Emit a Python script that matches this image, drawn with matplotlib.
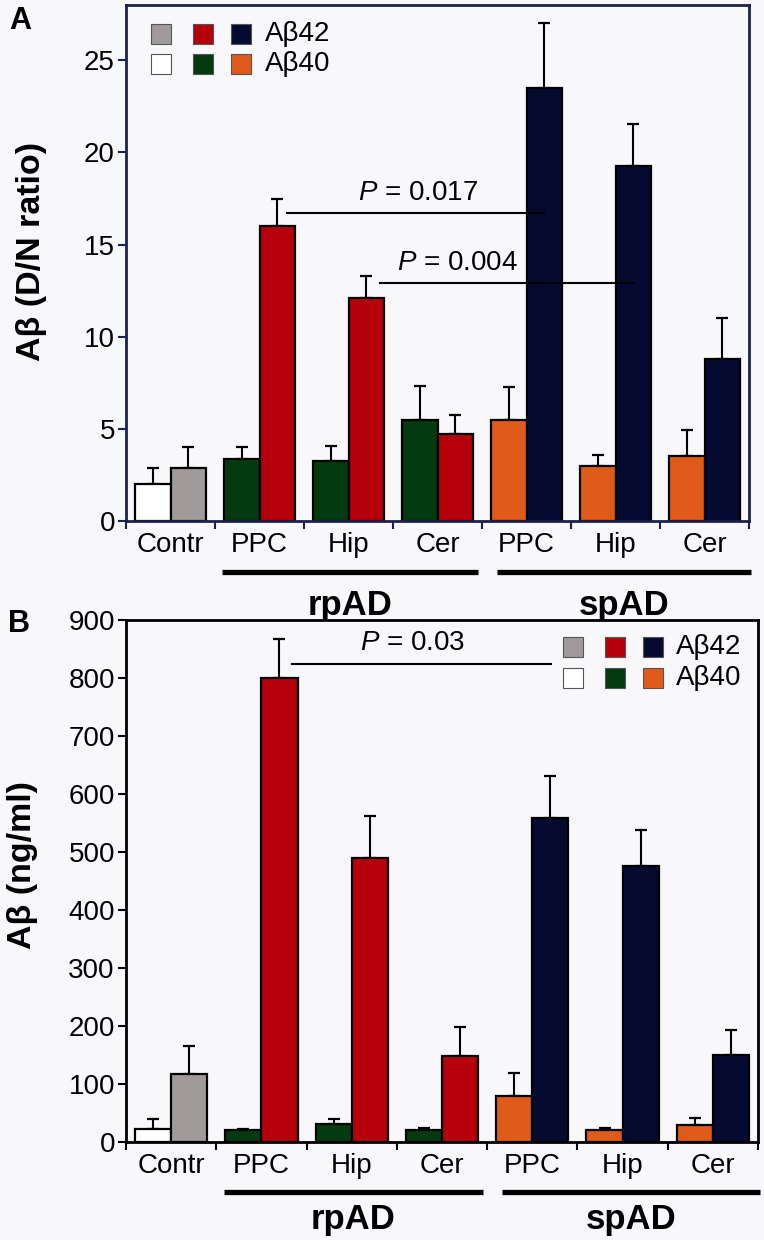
import numpy as np
import matplotlib.pyplot as plt
import matplotlib.transforms as mtransforms
from matplotlib.patches import Rectangle

plt.rcParams['font.family'] = ['Liberation Sans', 'DejaVu Sans']
plt.rcParams['mathtext.fontset'] = 'custom'
plt.rcParams['mathtext.rm'] = 'Liberation Sans'
plt.rcParams['mathtext.it'] = 'Liberation Sans:italic'

# data
regions = ['Contr', 'PPC', 'Hip', 'Cer', 'PPC', 'Hip', 'Cer']
groups = ['rpAD', 'spAD']

# panel A: D/N ratio
ratio_ab40 = [2.0, 3.35, 3.25, 5.5, 5.5, 3.0, 3.55]
ratio_ab40_err = [0.9, 0.65, 0.8, 1.85, 1.75, 0.6, 1.4]
ratio_ab42 = [2.9, 16.0, 12.1, 4.7, 23.5, 19.25, 8.8]
ratio_ab42_err = [1.1, 1.5, 1.2, 1.05, 3.55, 2.3, 2.2]

# panel B: ng/ml
conc_ab40 = [23, 20, 31, 20, 79, 20, 30]
conc_ab40_err = [17, 3, 9, 5, 40, 5, 12]
conc_ab42 = [117, 800, 490, 149, 558, 476, 150]
conc_ab42_err = [49, 68, 72, 49, 73, 62, 43]

# colours
bg = '#f8f7f9'
gray = '#a09b9a'
red = '#b5000c'
navy = '#050a30'
green = '#033a10'
orange = '#e05a1a'
frame_a = '#1c2150'

colors40 = ['white', green, green, green, orange, orange, orange]
colors42 = [gray, red, red, red, navy, navy, navy]

W, H = 764, 1240
fig = plt.figure(figsize=(W / 100, H / 100), dpi=100, facecolor=bg)


def box(left, top, right, bottom):
    return [left / W, 1 - bottom / H, (right - left) / W, (bottom - top) / H]


def fig_xy(x, y):
    return x / W, 1 - y / H


def draw_panel(ax, v40, e40, v42, e42, ylim, yticks, ylabel, label_xy, frame, under_px, text_px):
    x = np.arange(len(regions))
    ax.set_facecolor(bg)
    ax.bar(x - 0.2, v40, 0.4, color=colors40, edgecolor='black', linewidth=1.6, zorder=2)
    ax.bar(x + 0.2, v42, 0.4, color=colors42, edgecolor='black', linewidth=1.6, zorder=2)
    ax.errorbar(x - 0.2, v40, yerr=[np.zeros(len(x)), e40], fmt='none', ecolor='black',
                elinewidth=1.5, capsize=4, capthick=1.6, zorder=1)
    ax.errorbar(x + 0.2, v42, yerr=[np.zeros(len(x)), e42], fmt='none', ecolor='black',
                elinewidth=1.5, capsize=4, capthick=1.6, zorder=1)

    ax.set_xlim(-0.5, len(regions) - 0.5)
    ax.set_ylim(*ylim)
    ax.set_yticks(yticks)
    ax.set_xticks(x)
    ax.set_xticklabels(regions)
    ax.set_xticks(np.arange(-0.5, len(regions), 1), minor=True)
    ax.tick_params(axis='x', which='major', length=0, pad=8, labelsize=20)
    ax.tick_params(axis='x', which='minor', length=6, width=1.5, direction='out', color=frame)
    ax.tick_params(axis='y', length=6, width=1.5, direction='out', color=frame, labelsize=20, pad=2)
    for s in ax.spines.values():
        s.set_color(frame)
        s.set_linewidth(2)

    ax.set_ylabel(ylabel, fontsize=24.5, fontweight='bold', va='center')
    ax.yaxis.set_label_coords(*label_xy)

    # group underlines and names below the axis
    trans_line = ax.get_xaxis_transform() + mtransforms.ScaledTranslation(0, -under_px / 100, fig.dpi_scale_trans)
    trans_text = ax.get_xaxis_transform() + mtransforms.ScaledTranslation(0, -text_px / 100, fig.dpi_scale_trans)
    for (a, b), name in zip([(0.58, 3.45), (3.67, 6.52)], groups):
        ax.plot([a, b], [0, 0], color='black', linewidth=3.8, solid_capstyle='butt',
                transform=trans_line, clip_on=False)
        ax.text((a + b) / 2, 0, name, transform=trans_text, ha='center', va='center',
                fontsize=25, fontweight='bold')


axA = fig.add_axes(box(126, 5, 749, 521))
draw_panel(axA, ratio_ab40, ratio_ab40_err, ratio_ab42, ratio_ab42_err,
           (0, 28), [0, 5, 10, 15, 20, 25], 'Aβ (D/N ratio)', (-0.152, 0.523), frame_a, 51, 85)

axB = fig.add_axes(box(126, 620, 758, 1142))
draw_panel(axB, conc_ab40, conc_ab40_err, conc_ab42, conc_ab42_err,
           (0, 900), np.arange(0, 901, 100), 'Aβ (ng/ml)', (-0.163, 0.53), 'black', 50, 78)

# P value brackets
axA.plot([1.31, 4.2], [16.7, 16.7], color='black', linewidth=1.5, zorder=3)
axA.text(2.78, 17.1, r'$\mathit{P}$ = 0.017', ha='center', va='bottom', fontsize=20, zorder=4)
axA.plot([2.35, 5.2], [12.9, 12.9], color='black', linewidth=1.5, zorder=3)
axA.text(3.22, 13.3, r'$\mathit{P}$ = 0.004', ha='center', va='bottom', fontsize=20, zorder=4)

axB.plot([1.34, 4.21], [825, 825], color='black', linewidth=1.5, zorder=3)
axB.text(2.67, 838, r'$\mathit{P}$ = 0.03', ha='center', va='bottom', fontsize=20, zorder=4)


# legends: three squares per row plus label
def draw_legend(xs, ys, text_x):
    rows = [([gray, red, navy], 'Aβ42'), (['white', green, orange], 'Aβ40')]
    for y, (cols, label) in zip(ys, rows):
        for xc, c in zip(xs, cols):
            x0, y0 = fig_xy(xc - 10, y + 10)
            fig.add_artist(Rectangle((x0, y0), 20 / W, 20 / H, facecolor=c,
                                     edgecolor='#555555', linewidth=0.8,
                                     transform=fig.transFigure))
        tx, ty = fig_xy(text_x, y)
        fig.text(tx, ty, label, ha='left', va='center', fontsize=20)


draw_legend([161, 203, 241], [34, 64], 265)
draw_legend([573, 615, 653], [647, 678], 676)

# panel letters
fig.text(*fig_xy(20, 21), 'A', ha='center', va='center', fontsize=22, fontweight='bold')
fig.text(*fig_xy(19, 624), 'B', ha='center', va='center', fontsize=22, fontweight='bold')

fig.savefig('out.png', dpi=100, facecolor=bg)
